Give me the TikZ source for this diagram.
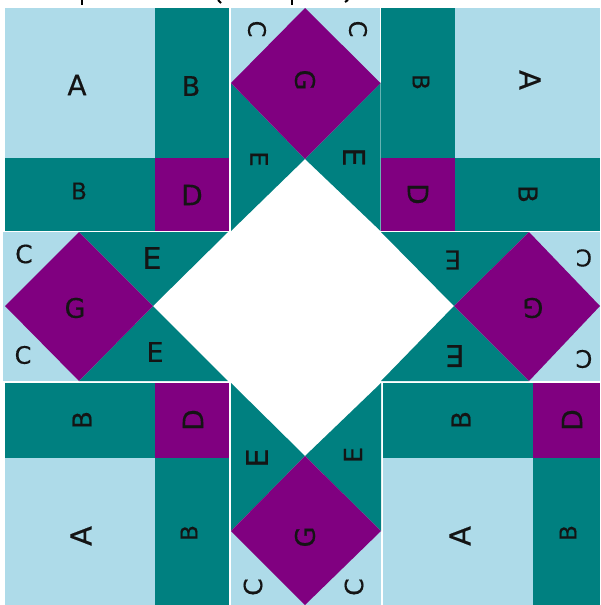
\documentclass[tikz,border=0pt]{standalone}
\usepackage{fontspec}
\setmainfont[FakeBold=0.4]{DejaVu Sans}
\definecolor{lb}{HTML}{AEDBE9}
\definecolor{tl}{HTML}{008080}
\definecolor{pu}{HTML}{800080}
\tikzset{
  lbf/.style={fill=lb},
  tlf/.style={fill=tl},
  puf/.style={fill=pu},
  lab/.style={inner sep=0pt,text=black!92,font=\fontsize{#1}{#1}\selectfont},
  lab/.default=24,
  seam/.style={line width=.8pt,draw=#1},
  crumb/.style={line width=2pt,draw=black,line cap=butt}
}
\begin{document}
\begin{tikzpicture}[x=1pt,y=-1pt]
\useasboundingbox (0,0) rectangle (600,605);
\fill[white] (0,0) rectangle (600,605);
% remains of a clipped line of text along the top edge
\draw[crumb] (82,0) -- (82,5);
\draw[crumb] (218,0) -- (221,3);
\draw[crumb] (292,0) -- (292,5);
\draw[crumb] (345,2) -- (348,0);
% top-left block
\fill[lbf] (5,8) rectangle (155,158);
\fill[tlf] (155,8) rectangle (229,158);
\fill[tlf] (5,158) rectangle (155,231);
\fill[puf] (155,158) rectangle (229,231);
% top-right block
\fill[tlf] (381,8) rectangle (455,158);
\fill[lbf] (455,8) rectangle (600,158);
\fill[puf] (381,158) rectangle (455,231);
\fill[tlf] (455,158) rectangle (600,231);
% bottom-left block
\fill[tlf] (5,383) rectangle (155,458);
\fill[puf] (155,383) rectangle (229,458);
\fill[lbf] (5,458) rectangle (155,605);
\fill[tlf] (155,458) rectangle (229,605);
% bottom-right block
\fill[tlf] (383,383) rectangle (533,458);
\fill[puf] (533,383) rectangle (600,458);
\fill[lbf] (383,458) rectangle (533,605);
\fill[tlf] (533,458) rectangle (600,605);
% top wedge
\fill[lbf] (231,8) rectangle (380,83);
\fill[tlf] (231,83) -- (305,159) -- (231,231) -- cycle;
\fill[tlf] (380.5,83) -- (305,159) -- (380.5,231) -- cycle;
\fill[puf] (305,8) -- (380.5,83) -- (305,159) -- (231,83) -- cycle;
\draw[seam=white] (380.6,8) -- (380.6,80);
\draw[seam=tl!60!white] (380.6,84) -- (380.6,231);
% bottom wedge
\fill[lbf] (231,531) rectangle (381,605);
\fill[tlf] (231,383) -- (305,456) -- (231,531) -- cycle;
\fill[tlf] (381,383) -- (305,456) -- (381,531) -- cycle;
\fill[puf] (305,456) -- (381,531) -- (305,605) -- (231,531) -- cycle;
% left wedge
\fill[lbf] (3,232) rectangle (79,381);
\fill[tlf] (79,232) -- (228,232) -- (153,306) -- cycle;
\fill[tlf] (153,306) -- (228,381) -- (79,381) -- cycle;
\fill[puf] (79,232) -- (153,306) -- (79,381) -- (5,306) -- cycle;
% right wedge
\fill[lbf] (529,232) rectangle (600,381);
\fill[tlf] (381,232) -- (529,232) -- (454,306) -- cycle;
\fill[tlf] (454,306) -- (529,381) -- (381,381) -- cycle;
\fill[puf] (529,232) -- (600,306) -- (529,381) -- (454,306) -- cycle;
% labels
\node[lab=28] (a1) at (77,85) {A};
\node[lab=27] (b1) at (191,86) {B};
\node[lab=23] (b2) at (79,191) {B};
\node[lab=28] (d1) at (192,195) {D};
\node[lab=24,rotate=-90] (c1) at (257,29) {C};
\node[lab=24,rotate=-90] (c2) at (358,29) {C};
\node[lab=27,rotate=-90] (g1) at (305,80) {G};
\node[lab=24,rotate=-90] (e1) at (259,159) {E};
\node[lab=30,rotate=-90] (e2) at (354,157) {E};
\node[lab=23,rotate=-90] (b3) at (421,82) {B};
\node[lab=29,rotate=-90] (a2) at (530,80) {A};
\node[lab=28,rotate=-90] (d2) at (418,194) {D};
\node[lab=26,rotate=-90] (b4) at (528,194) {B};
\node[lab=25] (c3) at (24,254) {C};
\node[lab=30] (e3) at (152,258) {E};
\node[lab=27] (g2) at (75,308) {G};
\node[lab=24] (c4) at (23,355) {C};
\node[lab=27] (e4) at (155,352) {E};
\node[lab=26,rotate=180] (e5) at (453,260) {E};
\node[lab=23,rotate=180] (c5) at (584,258) {C};
\node[lab=27,rotate=180] (g3) at (533,308) {G};
\node[lab=30,rotate=180] (e6) at (455,356) {E};
\node[lab=24,rotate=180] (c6) at (584,359) {C};
\node[lab=26,rotate=90] (b5) at (82,420) {B};
\node[lab=28,rotate=90] (d3) at (193,420) {D};
\node[lab=29,rotate=90] (a3) at (81,536) {A};
\node[lab=23,rotate=90] (b6) at (189,533) {B};
\node[lab=30,rotate=90] (e7) at (257,458) {E};
\node[lab=25,rotate=90] (e8) at (353,455) {E};
\node[lab=27,rotate=90] (g4) at (305,537) {G};
\node[lab=25,rotate=90] (c7) at (253,587) {C};
\node[lab=25,rotate=90] (c8) at (354,587) {C};
\node[lab=26,rotate=90] (b7) at (461,420) {B};
\node[lab=28,rotate=90] (d4) at (572,420) {D};
\node[lab=29,rotate=90] (a4) at (460,536) {A};
\node[lab=23,rotate=90] (b8) at (568,533) {B};
\end{tikzpicture}
\end{document}
